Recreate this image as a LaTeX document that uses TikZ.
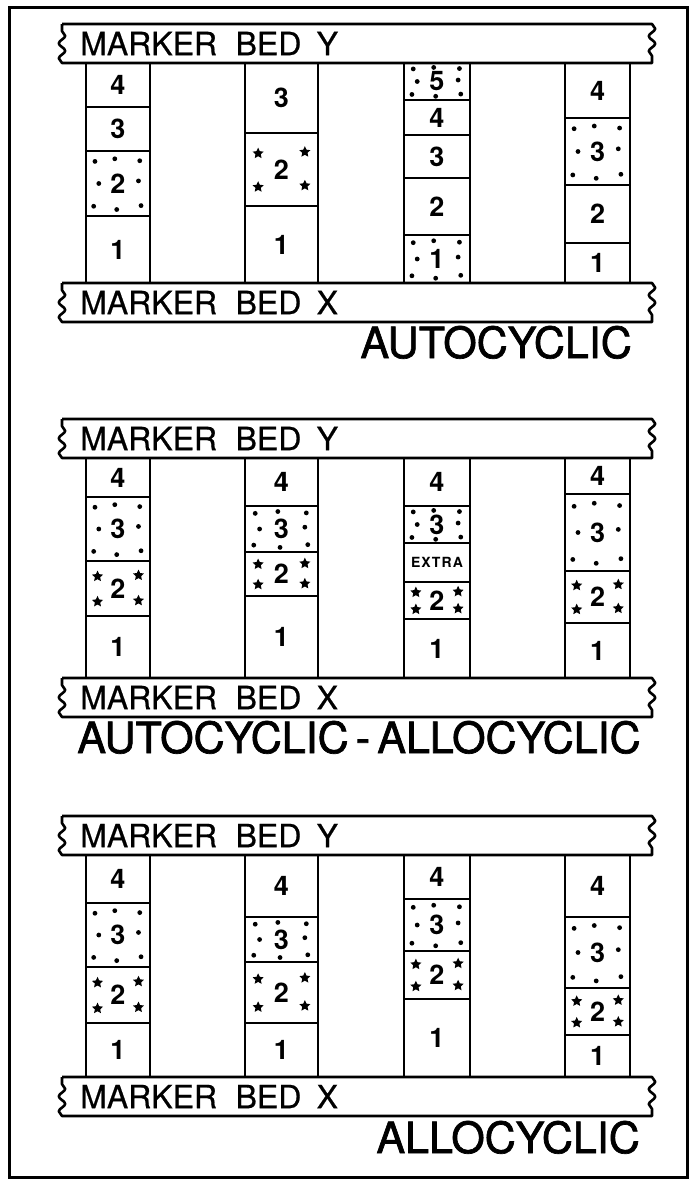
\documentclass[tikz,border=0pt]{standalone}
\usepackage{fontspec}
\setmainfont{TeX Gyre Heros}
\usetikzlibrary{positioning,calc,decorations.pathmorphing}

\begin{document}
\begin{tikzpicture}[
  x=1pt, y=-1pt,
  layer/.style={draw, line width=2.6pt, inner sep=0pt, outer sep=0pt, font=\fontsize{27}{27}\selectfont\bfseries},
  c1/.style={layer, minimum width=64},
  c2/.style={layer, minimum width=73},
  c3/.style={layer, minimum width=66},
  c4/.style={layer, minimum width=65},
  bed/.style={minimum width=590, minimum height=39, inner sep=0pt, outer sep=0pt},
  bedline/.style={line width=2.6pt, line join=round},
  wavy/.style={decoration={snake, segment length=15pt, amplitude=3.2pt}},
  bedtext/.style={anchor=west, inner sep=0pt, font=\fontsize{32}{32}\selectfont\addfontfeature{FakeBold=0.6}},
  title/.style={inner sep=0pt, font=\fontsize{43}{43}\selectfont\addfontfeature{FakeBold=1.6}},
  extra/.style={font=\fontsize{14}{14}\selectfont\bfseries\addfontfeature{LetterSpace=8}},
  node distance=0pt
]
\useasboundingbox (0,0) rectangle (695,1183);
\draw[line width=3pt] (9,7) rectangle (687,1177);

% --- autocyclic
\node[bed] (auY) at (357,43.5) {};
\node[bed] (auX) at (357,302.5) {};
\draw[bedline] (auY.north west) -- (auY.north east) decorate[wavy]{-- (auY.south east)} -- (auY.south west) decorate[wavy]{-- (auY.north west)};
\draw[bedline] (auX.north west) -- (auX.north east) decorate[wavy]{-- (auX.south east)} -- (auX.south west) decorate[wavy]{-- (auX.north west)};
\node[bedtext, right=18pt of auY.west] (auYt) {MARKER\hspace{0.3em} BED\hspace{0.2em} Y};
\node[bedtext, right=18pt of auX.west] (auXt) {MARKER\hspace{0.3em} BED\hspace{0.2em} X};

\node[c1, minimum height=44, anchor=north] (au14) at (118,63) {4};
\node[c1, minimum height=44, below=of au14] (au13) {3};
\node[c1, minimum height=65, below=of au13] (au12) {2};
\node[c1, minimum height=67, below=of au12] (au11) {1};

\node[c2, minimum height=70, anchor=north] (au23) at (281.5,63) {3};
\node[c2, minimum height=73, below=of au23] (au22) {2};
\node[c2, minimum height=77, below=of au22] (au21) {1};

\node[c3, minimum height=37, anchor=north] (au35) at (437,63) {5};
\node[c3, minimum height=35, below=of au35] (au34) {4};
\node[c3, minimum height=43, below=of au34] (au33) {3};
\node[c3, minimum height=57, below=of au33] (au32) {2};
\node[c3, minimum height=48, below=of au32] (au31) {1};

\node[c4, minimum height=55, anchor=north] (au44) at (597.5,63) {4};
\node[c4, minimum height=67, below=of au44] (au43) {3};
\node[c4, minimum height=58, below=of au43] (au42) {2};
\node[c4, minimum height=40, below=of au42] (au41) {1};

\node[title, anchor=base east] (auT) at (632,358) {AUTOCYCLIC};

% --- autocyclic - allocyclic
\node[bed] (aaY) at (357,438.5) {};
\node[bed] (aaX) at (357,697.5) {};
\draw[bedline] (aaY.north west) -- (aaY.north east) decorate[wavy]{-- (aaY.south east)} -- (aaY.south west) decorate[wavy]{-- (aaY.north west)};
\draw[bedline] (aaX.north west) -- (aaX.north east) decorate[wavy]{-- (aaX.south east)} -- (aaX.south west) decorate[wavy]{-- (aaX.north west)};
\node[bedtext, right=18pt of aaY.west] (aaYt) {MARKER\hspace{0.3em} BED\hspace{0.2em} Y};
\node[bedtext, right=18pt of aaX.west] (aaXt) {MARKER\hspace{0.3em} BED\hspace{0.2em} X};

\node[c1, minimum height=39, anchor=north] (aa14) at (118,458) {4};
\node[c1, minimum height=64, below=of aa14] (aa13) {3};
\node[c1, minimum height=55, below=of aa13] (aa12) {2};
\node[c1, minimum height=62, below=of aa12] (aa11) {1};

\node[c2, minimum height=48, anchor=north] (aa24) at (281.5,458) {4};
\node[c2, minimum height=46, below=of aa24] (aa23) {3};
\node[c2, minimum height=44, below=of aa23] (aa22) {2};
\node[c2, minimum height=82, below=of aa22] (aa21) {1};

\node[c3, minimum height=48, anchor=north] (aa34) at (437,458) {4};
\node[c3, minimum height=37, below=of aa34] (aa33) {3};
\node[c3, minimum height=39, below=of aa33, extra] (aa3x) {EXTRA};
\node[c3, minimum height=37, below=of aa3x] (aa32) {2};
\node[c3, minimum height=59, below=of aa32] (aa31) {1};

\node[c4, minimum height=36, anchor=north] (aa44) at (597.5,458) {4};
\node[c4, minimum height=77, below=of aa44] (aa43) {3};
\node[c4, minimum height=52, below=of aa43] (aa42) {2};
\node[c4, minimum height=55, below=of aa42] (aa41) {1};

\node[title, anchor=base] (aaT) at (359,753) {AUTOCYCLIC\,-\,ALLOCYCLIC};

% --- allocyclic
\node[bed] (alY) at (357,835.5) {};
\node[bed] (alX) at (357,1096.5) {};
\draw[bedline] (alY.north west) -- (alY.north east) decorate[wavy]{-- (alY.south east)} -- (alY.south west) decorate[wavy]{-- (alY.north west)};
\draw[bedline] (alX.north west) -- (alX.north east) decorate[wavy]{-- (alX.south east)} -- (alX.south west) decorate[wavy]{-- (alX.north west)};
\node[bedtext, right=18pt of alY.west] (alYt) {MARKER\hspace{0.3em} BED\hspace{0.2em} Y};
\node[bedtext, right=18pt of alX.west] (alXt) {MARKER\hspace{0.3em} BED\hspace{0.2em} X};

\node[c1, minimum height=48, anchor=north] (al14) at (118,855) {4};
\node[c1, minimum height=64, below=of al14] (al13) {3};
\node[c1, minimum height=56, below=of al13] (al12) {2};
\node[c1, minimum height=54, below=of al12] (al11) {1};

\node[c2, minimum height=62, anchor=north] (al24) at (281.5,855) {4};
\node[c2, minimum height=45, below=of al24] (al23) {3};
\node[c2, minimum height=61, below=of al23] (al22) {2};
\node[c2, minimum height=54, below=of al22] (al21) {1};

\node[c3, minimum height=44, anchor=north] (al34) at (437,855) {4};
\node[c3, minimum height=52, below=of al34] (al33) {3};
\node[c3, minimum height=48, below=of al33] (al32) {2};
\node[c3, minimum height=78, below=of al32] (al31) {1};

\node[c4, minimum height=62, anchor=north] (al44) at (597.5,855) {4};
\node[c4, minimum height=71, below=of al44] (al43) {3};
\node[c4, minimum height=47, below=of al43] (al42) {2};
\node[c4, minimum height=42, below=of al42] (al41) {1};

\node[title, anchor=base east] (alT) at (640,1153) {ALLOCYCLIC};

% sand dots
\foreach \lay in {au12,au35,au31,au43,aa13,aa23,aa33,aa43,al13,al23,al33,al43}
  \foreach \u/\v in {0.14/0.16,0.45/0.12,0.84/0.15,0.2/0.5,0.82/0.46,0.12/0.85,0.48/0.9,0.86/0.84}
    \fill let \p1=(\lay.north west), \p2=(\lay.south east) in ({\x1+\u*(\x2-\x1)},{\y1+\v*(\y2-\y1)}) circle (2.4pt);

% stars
\foreach \lay in {au22,aa12,aa22,aa32,aa42,al12,al22,al32,al42}
  \foreach \u/\v in {0.18/0.28,0.82/0.26,0.18/0.74,0.82/0.72}
    \fill let \p1=(\lay.north west), \p2=(\lay.south east) in ({\x1+\u*(\x2-\x1)},{\y1+\v*(\y2-\y1)})
      +(-90:5.8) -- +(-54:2.8) -- +(-18:5.8) -- +(18:2.8) -- +(54:5.8) -- +(90:2.8) -- +(126:5.8) -- +(162:2.8) -- +(198:5.8) -- +(234:2.8) -- cycle;
\end{tikzpicture}
\end{document}
